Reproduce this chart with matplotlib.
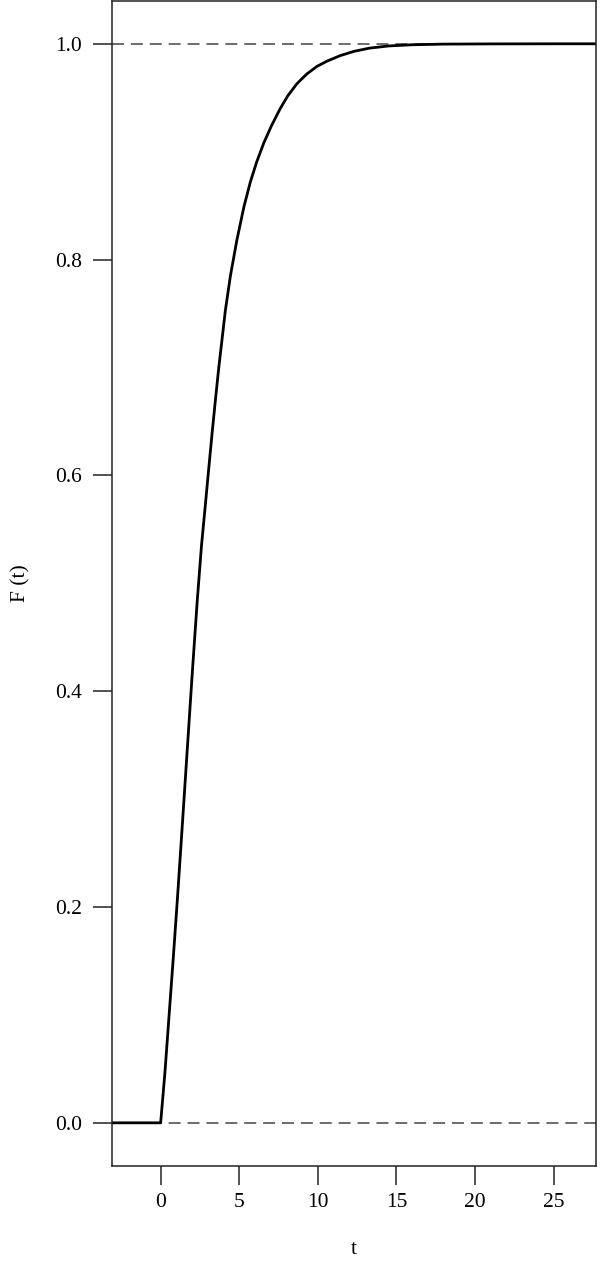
import matplotlib
matplotlib.use('Agg')
import matplotlib.pyplot as plt
import numpy as np

# values
t_vals = [-4, 0, 0.27, 0.53, 0.8, 1.06, 1.38, 1.69, 2.0, 2.33, 2.6, 2.86, 3.0, 3.28, 3.5,
          3.7, 4.12, 4.44, 4.85, 5.3, 5.71, 6.1, 6.56, 7.05, 7.61, 8.1, 8.67, 9.3, 9.94,
          10.6, 11.42, 12.3, 13.3, 14.5, 16, 18, 21, 25, 30]
F_vals = [0, 0, 0.046, 0.098, 0.152, 0.206, 0.276, 0.345, 0.414, 0.484, 0.535, 0.575, 0.597,
          0.640, 0.672, 0.700, 0.753, 0.785, 0.818, 0.849, 0.872, 0.890, 0.908, 0.924,
          0.940, 0.952, 0.963, 0.972, 0.979, 0.984, 0.989, 0.993, 0.996, 0.998, 0.9991,
          0.9997, 0.9999, 1.0, 1.0]
ref_levels = [0.0, 1.0]
x_ticks = [0, 5, 10, 15, 20, 25]
y_ticks = [0.0, 0.2, 0.4, 0.6, 0.8, 1.0]

plt.rcParams['font.family'] = ['Liberation Serif', 'DejaVu Serif']
plt.rcParams['lines.scale_dashes'] = False

fig = plt.figure(figsize=(6, 12.66), dpi=100)
ax = fig.add_axes([0.186, 0.079, 0.9933 - 0.186, 0.9205])

# dashed reference lines at 0 and 1
for lv in ref_levels:
    ax.axhline(lv, color='#444444', lw=1.1, dashes=(8.6, 5.0), zorder=1)

# the curve
ax.plot(t_vals, F_vals, color='black', lw=2.0, solid_joinstyle='round', zorder=2)

ax.set_xlim(-3.12, 27.7)
ax.set_ylim(-0.04, 1.04)
ax.set_xticks(x_ticks)
ax.set_yticks(y_ticks)
ax.set_yticklabels([f'{v:.1f}' for v in y_ticks])
ax.tick_params(axis='both', labelsize=15.5, width=1.1, length=13.5, color='#222222')
ax.tick_params(axis='x', pad=6)
ax.tick_params(axis='y', pad=8)
for s in ax.spines.values():
    s.set_linewidth(1.1)
    s.set_color('#222222')

ax.set_xlabel('t', fontsize=15.5, va='center')
ax.set_ylabel('F (t)', fontsize=15.5, va='center')
ax.xaxis.set_label_coords(0.5, -0.072)
ax.yaxis.set_label_coords(-0.188, 0.5)

fig.savefig('out.png', dpi=100)
